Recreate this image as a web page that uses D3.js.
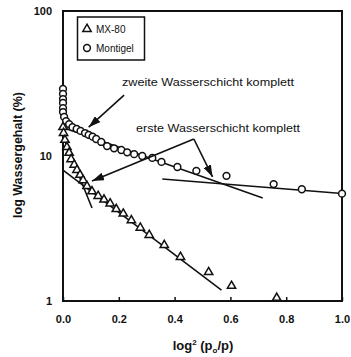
<!DOCTYPE html>
<html>
<head>
<meta charset="utf-8">
<script src="https://cdn.jsdelivr.net/npm/d3@7"></script>
<style>
  html, body { margin: 0; padding: 0; background: #fff; }
  svg { display: block; font-family: "Liberation Sans", Arial, sans-serif; }
  .tick text { font-weight: bold; font-size: 11px; fill: #111; }
</style>
</head>
<body>
<svg id="chart" width="351" height="357"></svg>
<script>
// Montigel water content vs. log²(p0/p)
const montigelX = [0.0, 0.0, 0.0, 0.0, 0.0, 0.0, 0.004, 0.011, 0.022, 0.034, 0.049, 0.063, 0.079, 0.092,
  0.106, 0.119, 0.137, 0.158, 0.183, 0.209, 0.230, 0.255, 0.284, 0.320, 0.353, 0.410, 0.478, 0.586,
  0.755, 0.856, 1.0];
const montigelY = [29.0, 26.8, 24.7, 23.2, 21.4, 20.1, 18.6, 17.4, 16.6, 15.8, 15.4, 14.9, 14.4, 14.0,
  13.6, 13.1, 12.5, 11.7, 11.3, 11.0, 10.6, 10.3, 10.0, 9.7, 9.1, 8.4, 7.9, 7.3,
  6.4, 5.9, 5.5];

// MX-80 water content vs. log²(p0/p)
const mx80X = [0.0, 0.002, 0.007, 0.014, 0.022, 0.029, 0.040, 0.050, 0.061, 0.072, 0.086, 0.104, 0.126,
  0.147, 0.169, 0.191, 0.216, 0.245, 0.277, 0.309, 0.363, 0.421, 0.522, 0.604, 0.766];
const mx80Y = [15.8, 14.4, 12.9, 11.5, 10.5, 9.5, 8.7, 8.0, 7.4, 6.8, 6.2, 5.7, 5.3,
  5.0, 4.7, 4.3, 4.0, 3.6, 3.2, 2.85, 2.43, 2.01, 1.58, 1.27, 1.05];

// Straight-line fits: [x0, y0, x1, y1]
const fitMontigelSteep = [0.0, 15.7, 0.716, 5.13];
const fitMontigelFlat  = [0.356, 6.94, 1.0, 5.51];
const fitMx80Steep     = [0.0, 13.7, 0.104, 4.38];
const fitMx80Flat      = [0.0, 8.0, 0.568, 1.19];

// Annotation arrows: [fromX, fromY, toX, toY]
const arrowSecond = [0.219, 26.3, 0.092, 15.8];
const arrowFirstA = [0.469, 13.1, 0.104, 6.72];
const arrowFirstB = [0.469, 13.1, 0.536, 7.17];

const xTicks = [0.0, 0.2, 0.4, 0.6, 0.8, 1.0];
const yTicks = [1, 10, 100];

const svg = d3.select("#chart");
const x = d3.scaleLinear().domain([0, 1]).range([63, 342]);
const y = d3.scaleLog().domain([1, 100]).range([301, 11]);

// axes
const xAxis = svg.append("g")
  .attr("transform", `translate(0,${y(1)})`)
  .call(d3.axisBottom(x).tickValues(xTicks).tickFormat(d3.format(".1f"))
    .tickSizeInner(-4).tickSizeOuter(0).tickPadding(14));
xAxis.select(".domain").remove();
xAxis.selectAll(".tick line").attr("stroke", "#111").attr("stroke-width", 1.5);

const yAxis = svg.append("g")
  .attr("transform", `translate(${x(0)},0)`)
  .call(d3.axisLeft(y).tickValues(yTicks).tickFormat(d3.format("d"))
    .tickSize(0).tickPadding(11));
yAxis.select(".domain").remove();

// frame
svg.append("rect")
  .attr("x", x(0)).attr("y", y(100))
  .attr("width", x(1) - x(0)).attr("height", y(1) - y(100))
  .attr("fill", "none").attr("stroke", "#111").attr("stroke-width", 2);

// fit lines
const fits = [fitMontigelSteep, fitMontigelFlat, fitMx80Steep, fitMx80Flat];
svg.append("g").selectAll("line").data(fits).join("line")
  .attr("x1", d => x(d[0])).attr("y1", d => y(d[1]))
  .attr("x2", d => x(d[2])).attr("y2", d => y(d[3]))
  .attr("stroke", "#111").attr("stroke-width", 1.6);

// markers
const mont = montigelX.map((v, i) => [v, montigelY[i]]);
const mx = mx80X.map((v, i) => [v, mx80Y[i]]);

svg.append("g").selectAll("circle").data(mont).join("circle")
  .attr("cx", d => x(d[0])).attr("cy", d => y(d[1])).attr("r", 3.4)
  .attr("fill", "#fff").attr("stroke", "#111").attr("stroke-width", 1.5);

const tri = d3.symbol().type(d3.symbolTriangle).size(30);
svg.append("g").selectAll("path").data(mx).join("path")
  .attr("d", tri)
  .attr("transform", d => `translate(${x(d[0])},${y(d[1])})`)
  .attr("fill", "#fff").attr("stroke", "#111").attr("stroke-width", 1.5);

// arrows with filled heads
svg.append("defs").append("marker")
  .attr("id", "head").attr("viewBox", "0 0 12 8")
  .attr("refX", 12).attr("refY", 4)
  .attr("markerWidth", 12).attr("markerHeight", 8)
  .attr("markerUnits", "userSpaceOnUse")
  .attr("orient", "auto")
  .append("path").attr("d", "M0,0 L12,4 L0,8 Z").attr("fill", "#111");

svg.append("g").selectAll("line").data([arrowSecond, arrowFirstA, arrowFirstB]).join("line")
  .attr("x1", d => x(d[0])).attr("y1", d => y(d[1]))
  .attr("x2", d => x(d[2])).attr("y2", d => y(d[3]))
  .attr("stroke", "#111").attr("stroke-width", 1.6)
  .attr("marker-end", "url(#head)");

// annotation texts
svg.append("text").attr("x", 122).attr("y", 86)
  .attr("font-size", 10).attr("textLength", 172).attr("lengthAdjust", "spacingAndGlyphs")
  .attr("fill", "#111")
  .text("zweite Wasserschicht komplett");
svg.append("text").attr("x", 136).attr("y", 132)
  .attr("font-size", 10).attr("textLength", 164).attr("lengthAdjust", "spacingAndGlyphs")
  .attr("fill", "#111")
  .text("erste Wasserschicht komplett");

// legend
const lg = svg.append("g");
lg.append("rect").attr("x", 77.5).attr("y", 17).attr("width", 67).attr("height", 43)
  .attr("fill", "#fff").attr("stroke", "#111").attr("stroke-width", 1.5);
lg.append("path").attr("d", tri).attr("transform", "translate(87,29)")
  .attr("fill", "#fff").attr("stroke", "#111").attr("stroke-width", 1.5);
lg.append("circle").attr("cx", 87).attr("cy", 48).attr("r", 3.4)
  .attr("fill", "#fff").attr("stroke", "#111").attr("stroke-width", 1.5);
lg.append("text").attr("x", 96).attr("y", 33).attr("font-size", 10).attr("fill", "#111").text("MX-80");
lg.append("text").attr("x", 96).attr("y", 52).attr("font-size", 10).attr("fill", "#111").text("Montigel");

// axis titles
svg.append("text")
  .attr("transform", "translate(22,155) rotate(-90)")
  .attr("text-anchor", "middle").attr("font-size", 12.5).attr("font-weight", "bold").attr("fill", "#111")
  .text("log Wassergehalt (%)");

const xt = svg.append("text")
  .attr("x", 203).attr("y", 350)
  .attr("text-anchor", "middle").attr("font-size", 13).attr("font-weight", "bold").attr("fill", "#111");
xt.append("tspan").text("log");
xt.append("tspan").attr("font-size", 8).attr("dy", -5).text("2");
xt.append("tspan").attr("dy", 5).text(" (p");
xt.append("tspan").attr("font-size", 8).attr("dy", 3).text("o");
xt.append("tspan").attr("dy", -3).text("/p)");
</script>
</body>
</html>
